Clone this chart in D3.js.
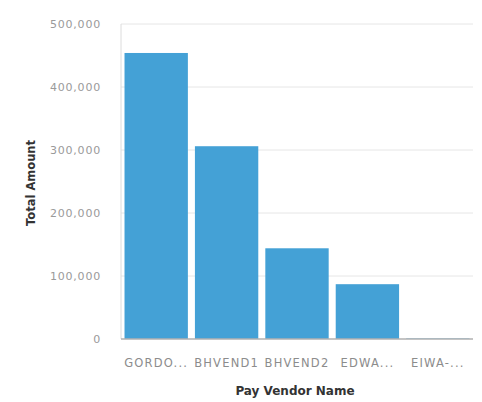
<!DOCTYPE html>
<html>
<head>
<meta charset="utf-8">
<script src="https://cdn.jsdelivr.net/npm/d3@7"></script>
<style>
  html, body { margin: 0; padding: 0; background: #fff; }
  svg { display: block; }
</style>
</head>
<body>
<svg id="chart" width="482" height="402"></svg>
<script>
// Vendor totals
const vendors = ["GORDO...", "BHVEND1", "BHVEND2", "EDWA...", "EIWA-..."];
const totals = [454000, 306000, 144000, 87000, 800];
const yTicks = [0, 100000, 200000, 300000, 400000, 500000];

const svg = d3.select("#chart");
const margin = { left: 121, right: 9, top: 24, bottom: 63 };
const W = 482, H = 402;
const x0 = margin.left, x1 = W - margin.right;
const y0 = H - margin.bottom, y1 = margin.top;

const x = d3.scaleBand().domain(vendors).range([x0, x1])
  .paddingInner(0.1).paddingOuter(0.05);
const y = d3.scaleLinear().domain([0, 500000]).range([y0, y1]);

const fmt = d3.format(",");

// Horizontal gridlines
svg.append("g").selectAll("line").data(yTicks.filter(d => d > 0)).join("line")
  .attr("x1", x0).attr("x2", x1)
  .attr("y1", d => y(d)).attr("y2", d => y(d))
  .attr("stroke", "#e6e6e6").attr("stroke-width", 1);

// Left axis rule
svg.append("line")
  .attr("x1", x0).attr("x2", x0).attr("y1", y(500000)).attr("y2", y(0))
  .attr("stroke", "#dcdcdc");

// Y axis labels
const yAxis = d3.axisLeft(y).tickValues(yTicks).tickFormat(fmt).tickSize(0).tickPadding(20);
const gy = svg.append("g").attr("transform", `translate(${x0},0)`).call(yAxis);
gy.select(".domain").remove();
gy.selectAll("text")
  .attr("fill", "#9a9a9a")
  .style("font-family", "DejaVu Sans")
  .style("font-size", "11px")
  .style("letter-spacing", "0.8px");

// Bars
svg.append("g").selectAll("rect").data(vendors).join("rect")
  .attr("x", d => x(d))
  .attr("width", x.bandwidth())
  .attr("y", (d, i) => y(totals[i]))
  .attr("height", (d, i) => y(0) - y(totals[i]))
  .attr("fill", "#44a1d6");

// X axis baseline and labels
const xAxis = d3.axisBottom(x).tickSize(0).tickPadding(20);
const gx = svg.append("g").attr("transform", `translate(0,${y0})`).call(xAxis);
gx.select(".domain").attr("stroke", "#b0b0b0").attr("stroke-width", 1.5)
  .attr("d", `M${x0},0H${x1}`);
gx.selectAll("text")
  .attr("fill", "#8c8c8c")
  .style("font-family", "DejaVu Sans")
  .style("font-size", "11.5px")
  .style("letter-spacing", "1.2px");

// Axis titles
svg.append("text")
  .attr("x", (x0 + x1) / 2 - 2).attr("y", 395)
  .attr("text-anchor", "middle")
  .attr("fill", "#333")
  .style("font-family", "DejaVu Sans")
  .style("font-weight", "bold")
  .style("font-size", "12px")
  .text("Pay Vendor Name");

svg.append("text")
  .attr("transform", `translate(35,183) rotate(-90)`)
  .attr("text-anchor", "middle")
  .attr("fill", "#333")
  .style("font-family", "DejaVu Sans")
  .style("font-weight", "bold")
  .style("font-size", "11.5px")
  .text("Total Amount");
</script>
</body>
</html>
